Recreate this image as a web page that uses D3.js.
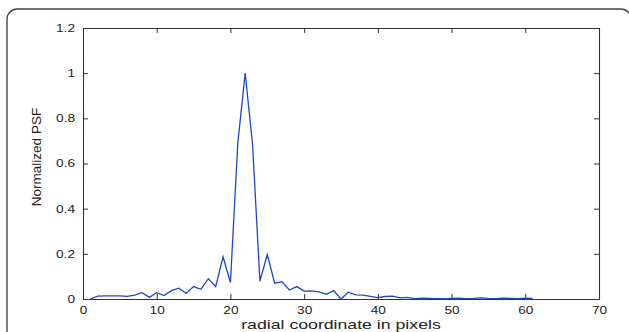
<!DOCTYPE html>
<html>
<head>
<meta charset="utf-8">
<script src="https://cdn.jsdelivr.net/npm/d3@7"></script>
<style>
  body { margin: 0; background: #fff; }
  svg { display: block; }
  text { font-family: "Liberation Sans", Arial, Helvetica, sans-serif; fill: #222; }
</style>
</head>
<body>
<div id="chart"></div>
<script>
// radial coordinate (pixels) and normalized PSF
const radius = d3.range(1, 62);
const psf = [
  0.000, 0.013, 0.014, 0.014, 0.014, 0.012, 0.017, 0.028, 0.007, 0.028,
  0.015, 0.037, 0.048, 0.025, 0.055, 0.043, 0.090, 0.055, 0.187, 0.073,
  0.690, 1.000, 0.685, 0.079, 0.197, 0.070, 0.077, 0.040, 0.055, 0.035,
  0.036, 0.032, 0.021, 0.037, 0.000, 0.030, 0.018, 0.017, 0.012, 0.006,
  0.011, 0.013, 0.005, 0.007, 0.002, 0.004, 0.003, 0.002, 0.001, 0.003,
  0.004, 0.002, 0.003, 0.005, 0.003, 0.002, 0.004, 0.003, 0.002, 0.004,
  0.003
];
const xTicks = [0, 10, 20, 30, 40, 50, 60, 70];
const yTicks = [0, 0.2, 0.4, 0.6, 0.8, 1, 1.2];

const W = 629, H = 332;
const margin = {left: 83, right: 30, top: 28, bottom: 33};
const innerW = W - margin.left - margin.right;
const innerH = H - margin.top - margin.bottom;

const svg = d3.select('#chart').append('svg')
    .attr('width', W)
    .attr('height', H);

// rounded panel frame (runs off the right / bottom edge)
svg.append('rect')
    .attr('x', 7).attr('y', 9)
    .attr('width', 624).attr('height', 340)
    .attr('rx', 10)
    .attr('fill', 'none')
    .attr('stroke', '#444')
    .attr('stroke-width', 1.4);

const g = svg.append('g').attr('transform', `translate(${margin.left},${margin.top})`);

const x = d3.scaleLinear().domain([0, 70]).range([0, innerW]);
const y = d3.scaleLinear().domain([0, 1.2]).range([innerH, 0]);

// the figure is stretched sideways, so widen the glyphs to match
function stretch(sel, k) {
  sel.each(function() {
    const w = this.getComputedTextLength();
    d3.select(this).attr('textLength', w * k).attr('lengthAdjust', 'spacingAndGlyphs');
  });
}

const fmt = d => d3.format('')(+d.toFixed(1));

const xAxis = g.append('g')
    .attr('transform', `translate(0,${innerH})`)
    .call(d3.axisBottom(x).tickValues(xTicks).tickSizeInner(-5).tickSizeOuter(0).tickPadding(8).tickFormat(fmt));
const xTop = g.append('g')
    .call(d3.axisTop(x).tickValues(xTicks).tickSizeInner(-5).tickSizeOuter(0).tickFormat(''));
const yAxis = g.append('g')
    .call(d3.axisLeft(y).tickValues(yTicks).tickSizeInner(-5).tickSizeOuter(0).tickPadding(8).tickFormat(fmt));
const yRight = g.append('g')
    .attr('transform', `translate(${innerW},0)`)
    .call(d3.axisRight(y).tickValues(yTicks).tickSizeInner(-5).tickSizeOuter(0).tickFormat(''));

[xAxis, xTop, yAxis, yRight].forEach(a => {
  a.select('.domain').attr('stroke', '#333').attr('stroke-width', 1.1);
  a.selectAll('.tick line').attr('stroke', '#333').attr('stroke-width', 1);
  a.selectAll('.tick text').attr('font-size', 10.5).attr('fill', '#222')
      .attr('font-family', '"Liberation Sans", Arial, sans-serif');
});
stretch(xAxis.selectAll('.tick text'), 1.3);
stretch(yAxis.selectAll('.tick text'), 1.3);

// PSF curve
const line = d3.line()
    .x((d, i) => x(radius[i]))
    .y(d => y(d));

g.append('path')
    .datum(psf)
    .attr('fill', 'none')
    .attr('stroke', '#1c48c6')
    .attr('stroke-width', 1.3)
    .attr('stroke-linejoin', 'miter')
    .attr('d', line);

// axis titles
const xlab = svg.append('text')
    .attr('x', margin.left + innerW / 2)
    .attr('y', 329)
    .attr('text-anchor', 'middle')
    .attr('font-size', 13)
    .text('radial coordinate in pixels');
stretch(xlab, 1.36);

svg.append('text')
    .attr('transform', `translate(41,${157}) rotate(-90)`)
    .attr('text-anchor', 'middle')
    .attr('font-size', 13.5)
    .text('Normalized PSF');
</script>
</body>
</html>
